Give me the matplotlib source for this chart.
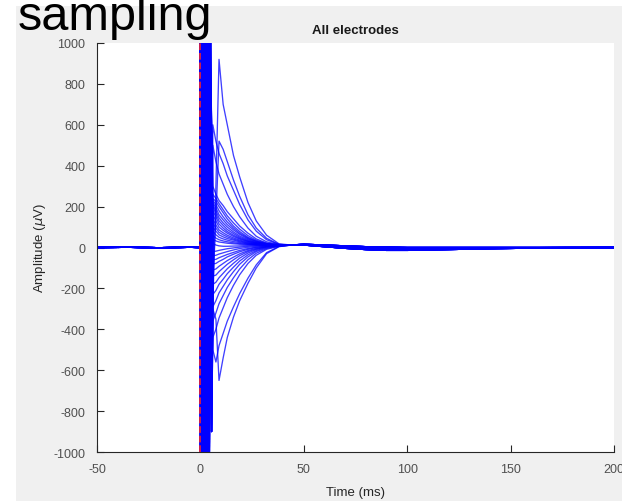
import matplotlib.pyplot as plt
from matplotlib.patches import Rectangle
import numpy as np

plt.rcParams['font.family'] = ['Liberation Sans', 'DejaVu Sans']
plt.rcParams['axes.unicode_minus'] = False

# pre-stimulus baseline (ms, uV)
pre_t = [-50, -35, -20, -5, 0]
pre_v = [0, 1, -1, 1, 0]

# stimulation artifact, three patterns
art_t_a = [0, 0.7, 1.5, 2.3, 3.1, 3.9, 4.7, 5.4]
art_t_b = [0, 0.4, 1.1, 1.9, 2.7, 3.5, 4.3, 5.1]
art_t_c = [0, 0.9, 1.7, 2.5, 3.3, 4.1, 4.9, 5.7]
art_v_a = [2500, -2500, 2200, -2000, 1800, -1500, 1200, -900]
art_v_b = [-2500, 2400, -2100, 1900, -1700, 1400, -1100, 800]
art_v_c = [2500, -2300, 2100, -1900, 1600, -1300, 1000, -700]

# decay after the artifact
decay_t = [6, 7.5, 9, 11, 13, 16, 19, 23, 27, 32, 38, 44]
decay_pos = [
    [-300, 300, 920, 700, 600, 450, 345, 220, 130, 60, 18, 12],
    [-200, 150, 520, 480, 420, 330, 250, 160, 95, 45, 15, 12],
    [600, 520, 460, 410, 350, 280, 210, 135, 80, 38, 15, 12],
    [500, 420, 360, 310, 260, 200, 150, 95, 55, 28, 14, 12],
    [300, 260, 230, 205, 175, 140, 105, 70, 42, 22, 13, 12],
    [260, 240, 215, 185, 155, 120, 90, 58, 36, 20, 12, 12],
    [240, 225, 200, 170, 140, 105, 78, 50, 32, 18, 12, 12],
    [230, 210, 180, 150, 125, 95, 70, 46, 30, 17, 12, 12],
    [220, 195, 160, 135, 112, 86, 64, 42, 28, 17, 12, 12],
    [210, 180, 145, 120, 100, 76, 56, 38, 25, 15, 12, 12],
    [200, 165, 130, 108, 88, 68, 50, 34, 24, 15, 12, 12],
    [180, 150, 115, 95, 78, 60, 45, 31, 22, 14, 12, 12],
    [160, 130, 100, 84, 70, 54, 41, 29, 21, 14, 12, 12],
    [140, 110, 86, 72, 60, 47, 36, 26, 19, 14, 12, 12],
    [120, 95, 74, 62, 52, 41, 32, 23, 17, 13, 12, 12],
    [100, 80, 62, 52, 44, 36, 28, 21, 16, 13, 12, 12],
    [80, 62, 50, 42, 36, 29, 24, 18, 15, 13, 12, 12],
    [60, 46, 38, 32, 28, 23, 19, 16, 14, 13, 12, 12],
    [40, 32, 27, 24, 21, 18, 16, 15, 14, 13, 12, 12],
]
decay_neg = [
    [20, 12, 8, 6, 6, 7, 8, 10, 11, 12, 12, 12],
    [-20, -18, -14, -10, -6, -2, 2, 6, 9, 11, 12, 12],
    [-40, -38, -32, -26, -20, -12, -5, 1, 6, 10, 12, 12],
    [-60, -58, -50, -42, -34, -24, -14, -5, 2, 8, 11, 12],
    [-80, -78, -68, -58, -46, -33, -21, -9, 0, 7, 11, 12],
    [-110, -105, -92, -78, -64, -47, -31, -15, -4, 5, 10, 12],
    [-140, -135, -118, -100, -82, -60, -40, -20, -7, 4, 10, 12],
    [-180, -170, -148, -126, -104, -77, -52, -27, -10, 3, 9, 12],
    [-230, -210, -180, -155, -128, -96, -66, -36, -15, 1, 9, 12],
    [-290, -260, -222, -190, -158, -118, -82, -46, -20, -2, 8, 12],
    [-360, -320, -275, -235, -195, -148, -105, -60, -28, -5, 7, 12],
    [-440, -400, -345, -295, -245, -185, -133, -78, -38, -9, 6, 12],
    [-500, -560, -480, -420, -360, -290, -225, -150, -85, -25, 5, 12],
    [-300, -350, -650, -540, -440, -340, -260, -175, -100, -30, 4, 12],
]

# late tail
tail_t = [50, 60, 70, 80, 90, 100, 120, 140, 160, 180, 200]
tail_a = [14, 8, 2, -3, -5, -6, -4, -2, -1, 0, 0]
tail_b = [12, 4, -4, -10, -14, -14, -10, -6, -3, -1, 0]
tail_c = [16, 12, 8, 4, 2, 0, 0, 0, 0, 0, 0]

arts = [(art_t_a, art_v_a), (art_t_b, art_v_b), (art_t_c, art_v_c)]
tails = [tail_a, tail_b, tail_c]

fig = plt.figure(figsize=(6.22, 5.02), dpi=100)
fig.patch.set_facecolor('white')
fig.add_artist(Rectangle((16 / 622, 0), 1, 495 / 502, transform=fig.transFigure,
                         facecolor='#f0f0f0', edgecolor='none', zorder=0))

ax = fig.add_axes([97 / 622, 49 / 502, 517 / 622, 409 / 502])
ax.set_facecolor('white')

for i, dv in enumerate(decay_pos + decay_neg):
    at, av = arts[i % 3]
    tv = tails[i % 3]
    t = np.concatenate([pre_t, at, decay_t, tail_t])
    v = np.concatenate([pre_v, av, dv, tv])
    ax.plot(t, v, color='blue', lw=0.95, alpha=0.75, zorder=2)

ax.axvline(0, color='#e0203a', ls='--', lw=1.3, zorder=3)

ax.set_xlim(-50, 200)
ax.set_ylim(-1000, 1000)
ax.set_xticks(np.arange(-50, 201, 50))
ax.set_yticks(np.arange(-1000, 1001, 200))
for s in ['top', 'right']:
    ax.spines[s].set_visible(False)
for s in ['left', 'bottom']:
    ax.spines[s].set_color('#262626')
    ax.spines[s].set_linewidth(0.8)
ax.tick_params(direction='in', length=5, width=0.8, colors='#262626',
               labelsize=9, labelcolor='#505050')
ax.tick_params(axis='y', pad=8.5)
ax.tick_params(axis='x', pad=8)

ax.set_title('All electrodes', fontsize=9.5, fontweight='bold', color='#1a1a1a', pad=7)
ax.set_xlabel('Time (ms)', fontsize=9.5, color='#262626', labelpad=8)
ax.set_ylabel('Amplitude ($\\mu$V)', fontsize=9.5, color='#262626', labelpad=4)

fig.text(18 / 622, 1 - 30 / 502, 'sampling', fontsize=35, color='black',
         ha='left', va='baseline')

fig.savefig('out.png', dpi=100)
